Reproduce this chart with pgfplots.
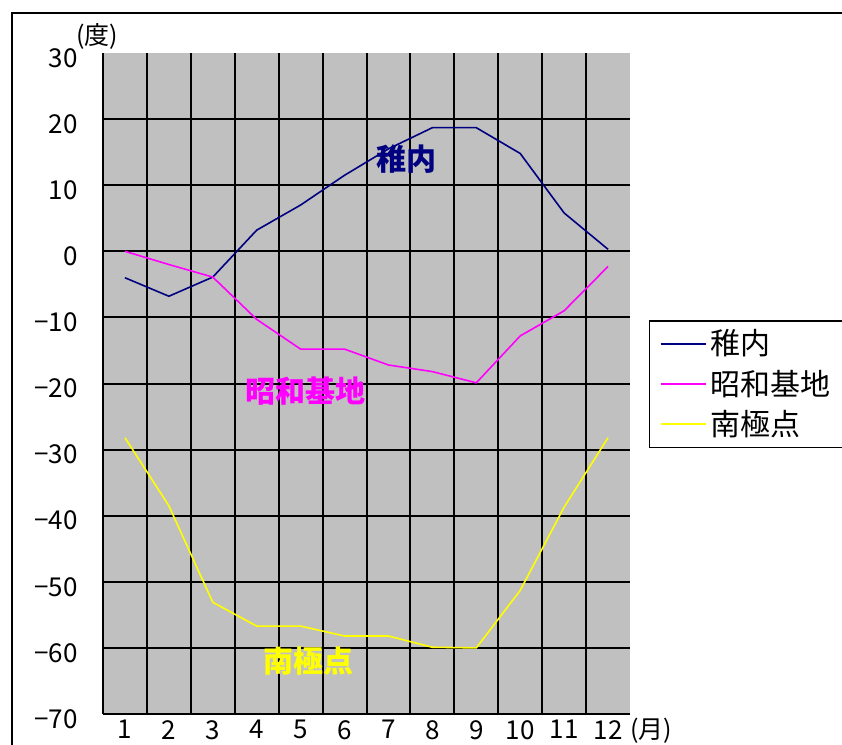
\documentclass[border=0pt]{standalone}
\usepackage{pgfplots}
\pgfplotsset{compat=1.18}
\usepackage{fontspec}
\setmainfont{Noto Sans CJK JP}
\definecolor{plotgray}{HTML}{C0C0C0}
\definecolor{wakka}{HTML}{000080}
\definecolor{syowa}{HTML}{FF00FF}
\definecolor{pole}{HTML}{FFFF00}

\begin{document}
\begin{tikzpicture}
% 1px = 0.5pt, picture top left at (0,0)
\useasboundingbox (0,0) rectangle (421pt,-372.5pt);
\clip (0,0) rectangle (421pt,-372.5pt);
\draw[line width=1pt] (6pt,-6.5pt) rectangle (440pt,-400pt);

\begin{axis}[
    at={(51.5pt,-357pt)}, anchor=south west,
    scale only axis,
    width=263.5pt, height=330.5pt,
    xmin=0.5, xmax=12.5,
    ymin=-70, ymax=30,
    axis background/.style={fill=plotgray},
    axis x line*=bottom, axis y line*=left,
    axis line style={line width=1pt, -},
    major tick length=0pt, minor tick length=0pt,
    xtick={1,...,12},
    minor xtick={1.5,2.5,...,11.5},
    xminorgrids,
    minor grid style={black, line width=1pt},
    ytick={-70,-60,...,30},
    yticklabels={−70,−60,−50,−40,−30,−20,−10,0,10,20,30},
    extra y ticks={-60,-50,...,20},
    extra y tick labels={},
    extra y tick style={grid=major, major grid style={black, line width=1pt}},
    /pgf/number format/assume math mode=true,
    ticklabel style={font=\fontsize{13}{13}\selectfont},
    yticklabel style={anchor=east, inner sep=0pt, xshift=-12.5pt, yshift=-2.5pt},
    xticklabel style={anchor=north, inner sep=0pt, yshift=-3pt},
    clip=false,
    legend style={at={(axis description cs:1.036,0.596)}, anchor=north west,
        draw=black, line width=0.75pt, font=\fontsize{15}{15}\selectfont,
        inner xsep=5pt, inner ysep=2.5pt, row sep=2pt,
        cells={anchor=west}, column 2/.style={text width=66pt}},
    legend image code/.code={\draw[#1] (0pt,0pt) -- (22.5pt,0pt);},
]
\addplot[wakka, line width=0.8pt] coordinates {
    (1,-4) (2,-6.8) (3,-3.9) (4,3.2) (5,7) (6,11.5)
    (7,15.5) (8,18.7) (9,18.7) (10,14.8) (11,5.8) (12,0.3)
};
\addlegendentry{稚内}
\addplot[syowa, line width=0.8pt] coordinates {
    (1,0) (2,-2) (3,-3.9) (4,-10.3) (5,-14.8) (6,-14.8)
    (7,-17.2) (8,-18.2) (9,-19.9) (10,-12.8) (11,-9) (12,-2.3)
};
\addlegendentry{昭和基地}
\addplot[pole, line width=0.8pt] coordinates {
    (1,-28.2) (2,-38.5) (3,-53.1) (4,-56.7) (5,-56.7) (6,-58.2)
    (7,-58.2) (8,-59.9) (9,-60) (10,-51.3) (11,-38.7) (12,-28.2)
};
\addlegendentry{南極点}

\node[wakka, font=\fontsize{15}{15}\selectfont\bfseries] at (axis cs:7.42,13.9) {稚内};
\node[syowa, font=\fontsize{15}{15}\selectfont\bfseries] at (axis cs:5.1,-21.1) {昭和基地};
\node[pole, font=\fontsize{15}{15}\selectfont\bfseries] at (axis cs:5.19,-62) {南極点};
\end{axis}

\node[font=\fontsize{12.5}{12.5}\selectfont] at (48.5pt,-18pt) {(度)};
\node[font=\fontsize{12.5}{12.5}\selectfont] at (325.5pt,-365.5pt) {(月)};
\end{tikzpicture}
\end{document}
